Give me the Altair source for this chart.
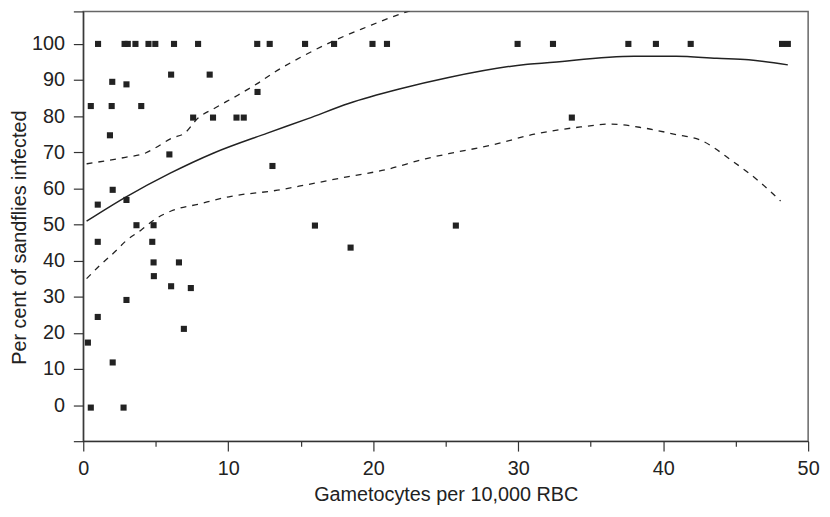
import altair as alt
import pandas as pd

# Scatter points (gametocytes per 10,000 RBC, per cent infected)
pts_x = [1.02, 2.85, 3.07, 3.6, 4.5, 4.97, 6.26, 7.92, 12.0, 12.86, 15.3, 17.3,
         19.95, 20.95, 29.96, 32.4, 37.6, 39.5, 41.9, 48.2, 48.6,
         0.52, 2.0, 2.98, 1.96, 4.0, 1.84, 6.06, 8.72, 12.02, 7.58, 8.95, 10.57,
         11.07, 5.94, 13.05, 2.03, 1.0, 2.98, 3.67, 4.85, 1.0, 4.76, 4.85, 6.6,
         4.87, 6.06, 7.42, 2.98, 1.0, 6.94, 0.32, 2.03, 0.52, 2.78, 15.98, 25.7,
         18.44, 33.7]
pts_y = [100, 100, 100, 100, 100, 100, 100, 100, 100, 100, 100, 100,
         100, 100, 100, 100, 100, 100, 100, 100, 100,
         82.8, 89.5, 88.8, 82.8, 82.8, 74.7, 91.5, 91.5, 86.7, 79.6, 79.6, 79.6,
         79.6, 69.4, 66.2, 59.6, 55.5, 56.8, 49.8, 49.8, 45.2, 45.2, 39.5, 39.5,
         35.7, 32.9, 32.4, 29.1, 24.4, 21.1, 17.3, 11.8, -0.7, -0.7, 49.7, 49.7,
         43.6, 79.6]

# Fitted curve
fit_x = [0.23, 2.9, 6.0, 9.0, 12.7, 15.5, 18.3, 21.8, 25.2, 30.5, 31.8, 38.0,
         40.9, 43.7, 45.9, 48.6]
fit_y = [50.9, 57.5, 64.2, 69.8, 75.3, 79.3, 83.5, 87.5, 90.7, 94.3, 94.7, 96.6,
         96.6, 96.0, 95.6, 94.2]

# Upper confidence band
up_x = [0.23, 2.9, 4.3, 4.97, 6.1, 7.0, 7.9, 9.06, 10.66, 12.0, 13.2, 15.0,
        17.3, 19.5, 21.8, 23.2, 24.5]
up_y = [66.8, 68.6, 69.8, 71.2, 73.9, 75.3, 79.4, 82.2, 85.8, 89.0, 92.2, 96.3,
        100.9, 104.6, 108.2, 110.0, 111.6]

# Lower confidence band
lo_x = [0.23, 1.1, 2.2, 2.9, 4.0, 4.97, 6.1, 7.9, 10.2, 13.4, 15.4, 18.2, 20.9,
        23.6, 25.2, 28.2, 31.1, 34.3, 36.4, 38.7, 40.9, 42.5, 44.8, 46.6, 48.1]
lo_y = [35.0, 38.5, 42.5, 45.3, 48.5, 51.5, 53.8, 55.6, 57.8, 59.5, 61.0, 63.2,
        65.2, 68.2, 69.6, 72.0, 75.0, 77.0, 77.8, 76.7, 74.9, 73.5, 67.5, 62.0,
        56.5]

x_ticks = [0, 5, 10, 15, 20, 25, 30, 35, 40, 45, 50]
y_ticks = [-10, 0, 10, 20, 30, 40, 50, 60, 70, 80, 90, 100, 109]
x_domain = [0, 50]
y_domain = [-10, 109]

pts = pd.DataFrame({"x": pts_x, "y": pts_y})
fit = pd.DataFrame({"x": fit_x, "y": fit_y})
bands = pd.concat([
    pd.DataFrame({"x": up_x, "y": up_y, "band": "upper"}),
    pd.DataFrame({"x": lo_x, "y": lo_y, "band": "lower"}),
])

FONT = "Liberation Sans"
INK = "#222222"
AX = "#333333"

xs = alt.Scale(domain=x_domain, nice=False, zero=False)
ys = alt.Scale(domain=y_domain, nice=False, zero=False)

x_axis = alt.Axis(
    values=x_ticks,
    tickSize={"condition": {"test": "datum.value % 10 === 0", "value": 10}, "value": 5},
    labelPadding=24, labelBaseline="alphabetic", labelFlush=False,
    labelExpr="datum.value % 10 === 0 ? datum.label : ''",
    labelFontSize=20, labelFont=FONT, labelColor=INK,
    title="Gametocytes per 10,000 RBC", titleFont=FONT, titleFontSize=20,
    titleFontWeight="normal", titleColor=INK, titleBaseline="alphabetic",
    titleY=60, grid=False, domainColor=AX, tickColor=AX,
    domainWidth=1.2, tickWidth=1.2)

y_axis = alt.Axis(
    values=y_ticks, tickSize=10, labelPadding=9, labelFlush=False,
    labelExpr="datum.value >= 0 && datum.value <= 100 ? datum.label : ''",
    labelFontSize=20, labelFont=FONT, labelColor=INK,
    title="Per cent of sandflies infected", titleFont=FONT, titleFontSize=20,
    titleFontWeight="normal", titleColor=INK, titleBaseline="alphabetic",
    titleX=-58, titleY=228, grid=False, domainColor=AX,
    tickColor=AX, domainWidth=1.2, tickWidth=1.2)

points = alt.Chart(pts).mark_square(size=38, color=INK, opacity=1).encode(
    x=alt.X("x:Q", scale=xs, axis=x_axis),
    y=alt.Y("y:Q", scale=ys, axis=y_axis),
)

fit_line = alt.Chart(fit).mark_line(color=INK, strokeWidth=1.5,
                                    interpolate="monotone", clip=True).encode(
    x=alt.X("x:Q", scale=xs, axis=x_axis),
    y=alt.Y("y:Q", scale=ys, axis=y_axis),
)

band_lines = alt.Chart(bands).mark_line(color=INK, strokeWidth=1.3,
                                        strokeDash=[6, 6], interpolate="monotone",
                                        clip=True).encode(
    x=alt.X("x:Q", scale=xs, axis=x_axis),
    y=alt.Y("y:Q", scale=ys, axis=y_axis),
    detail="band:N",
)

chart = alt.layer(points, fit_line, band_lines).properties(
    width=732, height=434,
    autosize=alt.AutoSizeParams(type="none"),
    padding={"left": 76, "top": 1, "right": 14, "bottom": 62},
    background="white",
).configure_view(stroke="#666666", strokeWidth=1.5)

chart.save("out.html", embed_options={"renderer": "svg", "actions": False})
